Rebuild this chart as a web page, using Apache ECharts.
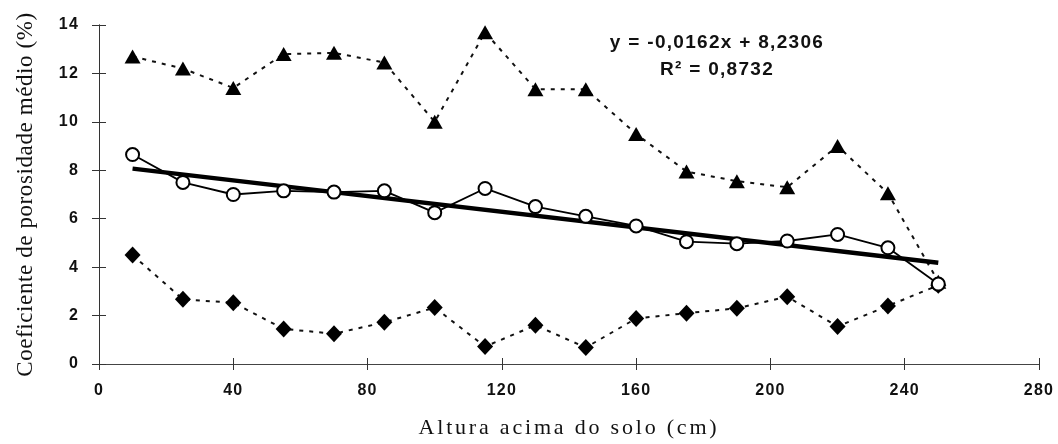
<!DOCTYPE html>
<html><head><meta charset="utf-8">
<script src="https://cdn.jsdelivr.net/npm/echarts@6/dist/echarts.min.js"></script>
<style>html,body{margin:0;padding:0;background:#fff}#c{width:1058px;height:444px}</style>
</head><body><div id="c"></div>
<script>
var heights = [10,25,40,55,70,85,100,115,130,145,160,175,190,205,220,235,250];
var triangles = [12.7,12.2,11.4,12.8,12.85,12.45,10.0,13.7,11.35,11.35,9.5,7.95,7.55,7.3,9.0,7.05,3.4];
var circles = [8.65,7.5,7.0,7.15,7.1,7.15,6.25,7.25,6.5,6.1,5.7,5.05,4.97,5.08,5.35,4.8,3.3];
var diamonds = [4.5,2.67,2.53,1.45,1.25,1.72,2.33,0.72,1.6,0.68,1.88,2.1,2.3,2.78,1.55,2.4,3.25];
var slope = -0.0162, intercept = 8.2306;
var eqLine1 = 'y = -0,0162x + 8,2306';
var eqLine2 = 'R² = 0,8732';
var xTitle = 'Altura acima do solo (cm)';
var yTitle = 'Coeficiente de porosidade médio (%)';

// letter spacing for the spaced-out texts of the original figure
var spacing = {};
spacing[xTitle] = '2.8px';
spacing[yTitle] = '0.6px';
spacing[eqLine1] = '1.3px';
spacing[eqLine2] = '1.3px';
['0','40','80','120','160','200','240','280','2','4','6','8','10','12','14'].forEach(function(t){ spacing[t] = '1.2px'; });
if ('letterSpacing' in CanvasRenderingContext2D.prototype) {
  var origFill = CanvasRenderingContext2D.prototype.fillText;
  CanvasRenderingContext2D.prototype.fillText = function(t, x, y, m) {
    if (spacing[t]) {
      var prev = this.letterSpacing;
      this.letterSpacing = spacing[t];
      var r = m === undefined ? origFill.call(this, t, x, y) : origFill.call(this, t, x, y, m);
      this.letterSpacing = prev;
      return r;
    }
    return origFill.apply(this, arguments);
  };
}

function pairs(arr){ return heights.map(function(h,i){ return [h, arr[i]]; }); }
var trend = [[heights[0], slope*heights[0]+intercept],[heights[heights.length-1], slope*heights[heights.length-1]+intercept]];

var tickFont = {fontFamily:'Liberation Sans, Arial, sans-serif', fontWeight:'bold', fontSize:16, color:'#111'};
function xAx(inside, show){
  return {type:'value', min:0, max:280, interval:40, position:'bottom',
    axisLine:{show:true, onZero:false, lineStyle:{color:'#444',width:1}},
    axisTick:{show:true, inside:inside, length:6, lineStyle:{color:'#333'}},
    axisLabel:Object.assign({show:show, margin:19}, tickFont),
    splitLine:{show:false},
    name: show ? xTitle : '', nameLocation:'middle', nameGap:53,
    nameTextStyle:{fontFamily:'Liberation Serif, Times New Roman, serif', fontSize:22, color:'#111'}};
}
function yAx(inside, show){
  return {type:'value', min:0, max:14, interval:2, position:'left',
    axisLine:{show:true, onZero:false, lineStyle:{color:'#333',width:1}},
    axisTick:{show:true, inside:inside, length:7, lineStyle:{color:'#333'}},
    axisLabel:Object.assign({show:show, margin:20}, tickFont),
    splitLine:{show:false},
    name: show ? yTitle : '', nameLocation:'middle', nameGap:62,
    nameTextStyle:{fontFamily:'Liberation Serif, Times New Roman, serif', fontSize:23, color:'#111'}};
}
var eqFont = {fontFamily:'Liberation Sans, Arial, sans-serif', fontWeight:'bold', fontSize:19, fill:'#111', align:'center', verticalAlign:'middle'};
var chart = echarts.init(document.getElementById('c'), null, {renderer:'canvas'});
chart.setOption({
  animation:false,
  backgroundColor:'#fff',
  grid:{left:99, right:19, top:25, bottom:78},
  xAxis:[xAx(false,true), xAx(true,false)],
  yAxis:[yAx(false,true), yAx(true,false)],
  graphic:[
    {type:'text', x:717, y:43, style:Object.assign({text:eqLine1}, eqFont)},
    {type:'text', x:717, y:70, style:Object.assign({text:eqLine2}, eqFont)}
  ],
  series:[
    {type:'line', data:pairs(triangles), symbol:'triangle', symbolSize:[16,14], itemStyle:{color:'#000'},
      lineStyle:{color:'#111', width:2, type:[4,6]}, z:3},
    {type:'line', data:pairs(diamonds), symbol:'diamond', symbolSize:[16,17], itemStyle:{color:'#000'},
      lineStyle:{color:'#111', width:2, type:[4,6]}, z:3},
    {type:'line', data:trend, symbol:'none', lineStyle:{color:'#000', width:4.5}, z:4},
    {type:'line', data:pairs(circles), symbol:'circle', symbolSize:13, itemStyle:{color:'#fff', borderColor:'#000', borderWidth:2},
      lineStyle:{color:'#000', width:1.8}, z:5}
  ]
});
</script></body></html>
